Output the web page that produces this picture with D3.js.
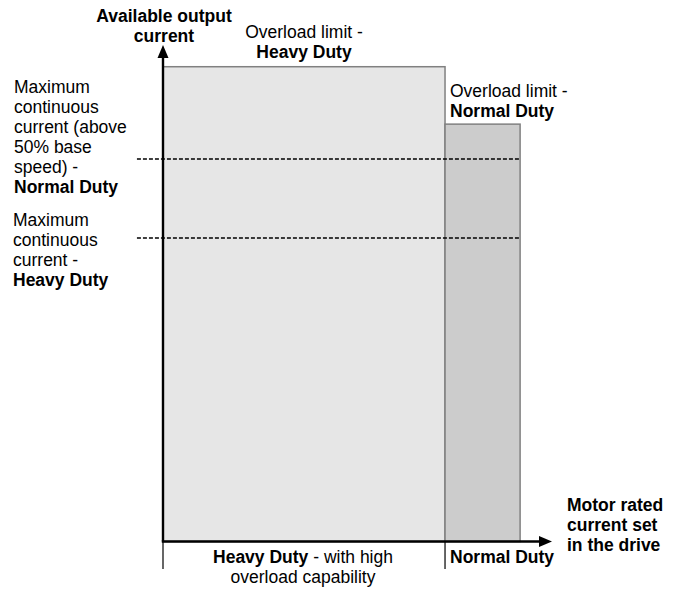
<!DOCTYPE html>
<html><head><meta charset="utf-8">
<script src="https://cdn.jsdelivr.net/npm/d3@7"></script>
<style>
html,body{margin:0;padding:0;background:#fff;}
text{font-family:"Liberation Sans",Arial,sans-serif;font-size:17.5px;fill:#000;}
.b{font-weight:bold;}
</style></head>
<body>
<svg id="c" width="675" height="590"></svg>
<script>
// Duty ratings (x = motor rated current set in the drive, y = available output current, arbitrary units)
const categories = ["Heavy Duty", "Normal Duty"];
const ratedCurrentEnd = [72.5, 91.8];        // right edge of each rating band
const overloadLimit = [153, 134.5];          // bar heights
const continuousCurrent = [97.8, 123.3];     // dashed lines (HD, ND)
const yAxisLabel = ["Available output", "current"];
const xAxisLabel = ["Motor rated", "current set", "in the drive"];

const svg = d3.select("#c");
const x = d3.scaleLinear().domain([0, 100]).range([163, 552]);
const y = d3.scaleLinear().domain([0, 160]).range([541.5, 45]);

const starts = [0, ratedCurrentEnd[0]];
const fills = ["#e6e6e6", "#cccccc"];

// bars
svg.selectAll("rect.bar").data(categories).enter().append("rect")
  .attr("class", "bar")
  .attr("x", (d, i) => x(starts[i]))
  .attr("y", (d, i) => y(overloadLimit[i]))
  .attr("width", (d, i) => x(ratedCurrentEnd[i]) - x(starts[i]))
  .attr("height", (d, i) => y(0) - y(overloadLimit[i]))
  .attr("fill", (d, i) => fills[i])
  .attr("stroke", "#808080")
  .attr("stroke-width", 1.5);

// dashed continuous-current lines
svg.selectAll("line.dash").data(continuousCurrent).enter().append("line")
  .attr("x1", x(-6.7)).attr("x2", x(ratedCurrentEnd[1]))
  .attr("y1", d => y(d)).attr("y2", d => y(d))
  .attr("stroke", "#000").attr("stroke-width", 1.5)
  .attr("stroke-dasharray", "4,2");

// category separator ticks below x axis
svg.selectAll("line.tick").data([0, ratedCurrentEnd[0]]).enter().append("line")
  .attr("x1", d => x(d)).attr("x2", d => x(d))
  .attr("y1", y(0)).attr("y2", 569)
  .attr("stroke", "#000").attr("stroke-width", 1.2);

// axes with arrows
svg.append("line").attr("x1", x(0)).attr("y1", y(0)).attr("x2", x(0)).attr("y2", y(160) + 10)
  .attr("stroke", "#000").attr("stroke-width", 2.4);
svg.append("path").attr("d", `M${x(0)},${y(160)} L${x(0) - 5.5},${y(160) + 13} L${x(0) + 5.5},${y(160) + 13} Z`).attr("fill", "#000");
svg.append("line").attr("x1", x(0) - 1.2).attr("y1", y(0)).attr("x2", x(100) - 10).attr("y2", y(0))
  .attr("stroke", "#000").attr("stroke-width", 2.4);
svg.append("path").attr("d", `M${x(100)},${y(0)} L${x(100) - 13},${y(0) - 5.5} L${x(100) - 13},${y(0) + 5.5} Z`).attr("fill", "#000");

// text helper
function lines(xp, yp, arr, anchor) {
  const t = svg.append("text").attr("text-anchor", anchor || "start");
  arr.forEach((ln, i) => {
    const ts = t.append("tspan").attr("x", xp).attr("y", yp + i * 20);
    ln.forEach(seg => ts.append("tspan").attr("class", seg[1] ? "b" : null).text(seg[0]));
  });
}

lines(164, 22, yAxisLabel.map(s => [[s, 1]]), "middle");
lines(567, 511, xAxisLabel.map(s => [[s, 1]]), "start");
lines(304, 38, [[["Overload limit -", 0]], [["Heavy Duty", 1]]], "middle");
lines(450, 97, [[["Overload limit -", 0]], [["Normal Duty", 1]]], "start");
lines(14, 93, [[["Maximum", 0]], [["continuous", 0]], [["current (above", 0]], [["50% base", 0]], [["speed) -", 0]], [["Normal Duty", 1]]], "start");
lines(13, 226, [[["Maximum", 0]], [["continuous", 0]], [["current -", 0]], [["Heavy Duty", 1]]], "start");
lines(303, 563, [[["Heavy Duty", 1], [" - with high", 0]], [["overload capability", 0]]], "middle");
lines(450, 563, [[["Normal Duty", 1]]], "start");
</script>
</body></html>
